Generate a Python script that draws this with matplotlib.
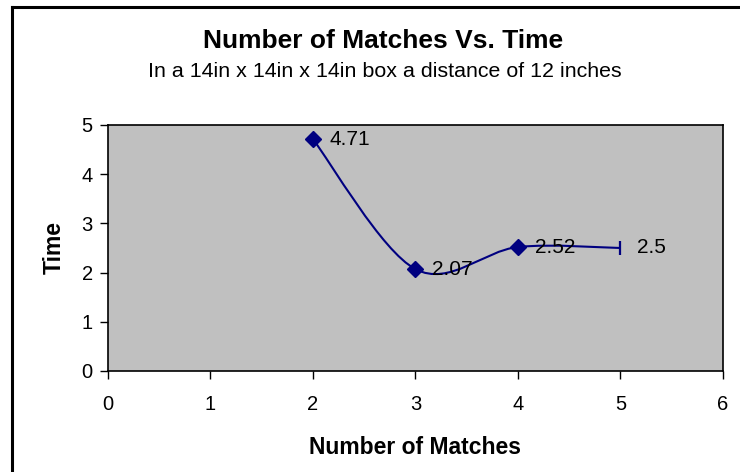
import numpy as np
import matplotlib
matplotlib.use('Agg')
import matplotlib.pyplot as plt
from matplotlib.path import Path
from matplotlib.patches import PathPatch
from matplotlib.lines import Line2D

plt.rcParams['font.family'] = ['Liberation Sans', 'DejaVu Sans']

matches = [2, 3, 4, 5]
times = [4.71, 2.07, 2.52, 2.5]
point_labels = ["4.71", "2.07", "2.52", "2.5"]
x_ticks = [0, 1, 2, 3, 4, 5, 6]
y_ticks = [0, 1, 2, 3, 4, 5]

NAVY = "#000080"


def smooth_path(xs, ys):
    """Excel-like smoothed line: cubic Bezier with Catmull-Rom control points."""
    pts = np.column_stack([xs, ys]).astype(float)
    n = len(pts)
    verts = [pts[0]]
    codes = [Path.MOVETO]
    for i in range(n - 1):
        p0 = pts[i - 1] if i > 0 else pts[i]
        p1 = pts[i]
        p2 = pts[i + 1]
        p3 = pts[i + 2] if i + 2 < n else pts[i + 1]
        c1 = p1 + (p2 - p0) / 6.0
        c2 = p2 - (p3 - p1) / 6.0
        verts += [c1, c2, p2]
        codes += [Path.CURVE4] * 3
    return Path(verts, codes)


fig = plt.figure(figsize=(7.4, 4.72), dpi=100)
ax = fig.add_axes([0.1459, 0.214, 0.8311, 0.5212])
ax.set_facecolor("#c0c0c0")

ax.add_patch(PathPatch(smooth_path(matches, times), facecolor="none",
                       edgecolor=NAVY, linewidth=1.5, zorder=3))
ax.plot(matches[:-1], times[:-1], linestyle="none", marker="D",
        markersize=8.5, color=NAVY, zorder=4)
ax.plot(matches[-1:], times[-1:], linestyle="none", marker="|",
        markersize=10, markeredgewidth=1.6, color=NAVY, zorder=4)

for x, y, lab in zip(matches, times, point_labels):
    ax.annotate(lab, (x, y), xytext=(12, 0), textcoords="offset points",
                va="center", ha="left", fontsize=15, zorder=5)

ax.set_xlim(0, 6)
ax.set_ylim(0, 5)
ax.set_xticks(x_ticks)
ax.set_yticks(y_ticks)
ax.tick_params(direction="out", length=6, width=1, labelsize=14.5)
ax.tick_params(axis="x", pad=11)
ax.tick_params(axis="y", pad=5)
for s in ax.spines.values():
    s.set_color("black")
    s.set_linewidth(1.2)

ax.set_xlabel("Number of Matches", fontsize=16.5, fontweight="bold", labelpad=16)
ax.set_ylabel("Time", fontsize=16.5, fontweight="bold", labelpad=11)

fig.text(0.518, 0.913, "Number of Matches Vs. Time", ha="center", va="center",
         fontsize=19, fontweight="bold")
fig.text(0.52, 0.849, "In a 14in x 14in x 14in box a distance of 12 inches",
         ha="center", va="center", fontsize=15.4)

# outer chart frame (only left and top edges visible in the crop)
fig.add_artist(Line2D([0.0162, 0.0162], [0.0, 0.985], transform=fig.transFigure,
                      color="black", linewidth=2.2))
fig.add_artist(Line2D([0.0162, 1.0], [0.985, 0.985], transform=fig.transFigure,
                      color="black", linewidth=2.2))

fig.savefig("out.png", dpi=100, facecolor="white")
